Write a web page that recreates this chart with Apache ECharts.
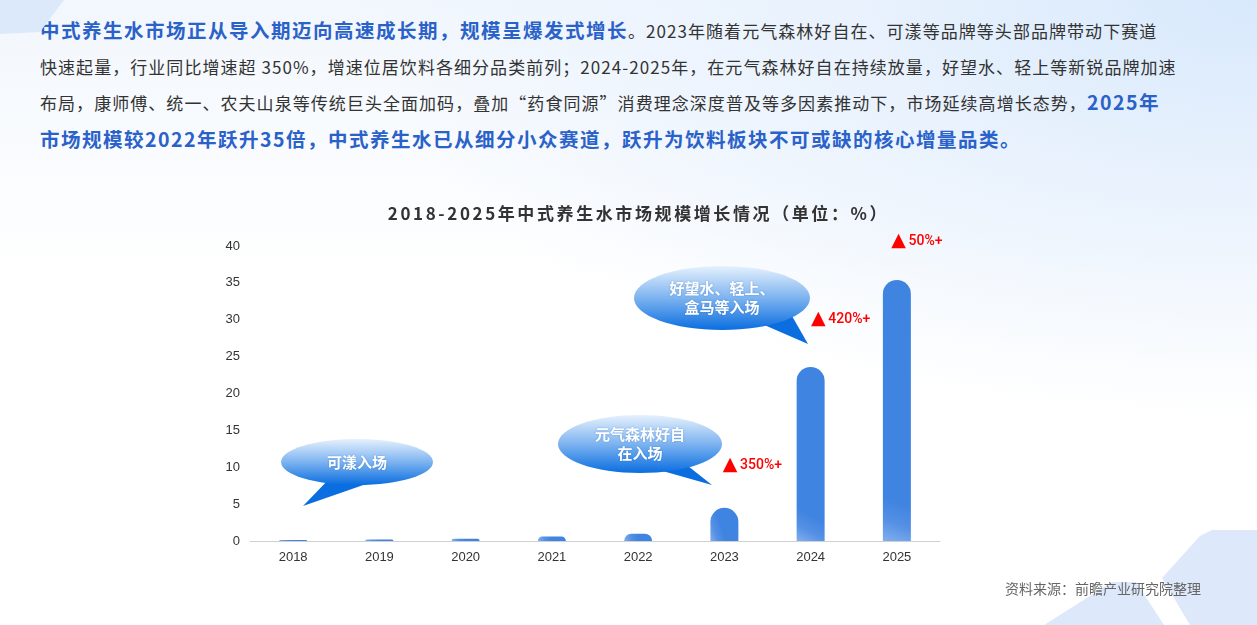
<!DOCTYPE html>
<html>
<head>
<meta charset="utf-8">
<script src="https://cdn.jsdelivr.net/npm/echarts@6/dist/echarts.min.js"></script>
<style>
  html, body { margin: 0; padding: 0; }
  body {
    width: 1257px; height: 625px; overflow: hidden; position: relative;
    font-family: "Noto Sans CJK SC", sans-serif;
    background:
      radial-gradient(ellipse 900px 420px at 100% 0%, #d8e9fc 0%, #e9f2fd 45%, rgba(255,255,255,0) 100%),
      linear-gradient(180deg, #f2f7fd 0%, #ffffff 45%, #ffffff 100%);
  }
  #intro {
    position: absolute; left: 40px; top: 12px; width: 1200px;
    color: #333; font-size: 17px; line-height: 35.5px; white-space: nowrap;
    letter-spacing: 1.05px;
  }
  #intro b { color: #2a62c9; font-size: 19.5px; letter-spacing: 1.5px; }
  #chartTitle {
    position: absolute; left: 0; width: 1257px; top: 200px; text-align: center;
    color: #333; font-size: 17px; font-weight: bold; letter-spacing: 2.6px;
    padding-left: 20px; box-sizing: border-box;
  }
  #chart { position: absolute; left: 0; top: 0; width: 1257px; height: 625px; }
</style>
</head>
<body>
<div id="intro">
  <div><b>中式养生水市场正从导入期迈向高速成长期，规模呈爆发式增长</b>。2023年随着元气森林好自在、可漾等品牌等头部品牌带动下赛道</div>
  <div>快速起量，行业同比增速超 350%，增速位居饮料各细分品类前列；2024-2025年，在元气森林好自在持续放量，好望水、轻上等新锐品牌加速</div>
  <div>布局，康师傅、统一、农夫山泉等传统巨头全面加码，叠加“药食同源”消费理念深度普及等多因素推动下，市场延续高增长态势，<b>2025年</b></div>
  <div><b>市场规模较2022年跃升35倍，中式养生水已从细分小众赛道，跃升为饮料板块不可或缺的核心增量品类。</b></div>
</div>
<div id="chart"></div>
<div id="chartTitle">2018-2025年中式养生水市场规模增长情况（单位：%）</div>
<script>
// data
var years = ['2018', '2019', '2020', '2021', '2022', '2023', '2024', '2025'];
var marketSize = [0.15, 0.2, 0.3, 0.6, 1.0, 4.5, 23.6, 35.4];
var growthTags = ['', '', '', '', '', '350%+', '420%+', '50%+'];
var yTicks = [0, 5, 10, 15, 20, 25, 30, 35, 40];

var tagOffsets = {5: [28, -28], 6: [30, -33], 7: [20, -24]};

var barColor = new echarts.graphic.LinearGradient(0, 1, 1, 0.7, [
    {offset: 0, color: '#80afed'},
    {offset: 0.25, color: '#5590e5'},
    {offset: 0.5, color: '#3f84e1'},
    {offset: 1, color: '#3f84e1'}
]);

var bubbleFill = new echarts.graphic.LinearGradient(0, 0, 0, 1, [
    {offset: 0, color: '#e6f1fd'},
    {offset: 0.5, color: '#7db3f0'},
    {offset: 1, color: '#0a6ee0'}
]);

function bubble(cx, cy, rx, ry, tail, text) {
    return {
        type: 'group',
        children: [
            {type: 'polygon', shape: {points: tail}, style: {fill: '#0a6ee0'}},
            {type: 'ellipse', shape: {cx: cx, cy: cy, rx: rx, ry: ry}, style: {fill: bubbleFill}},
            {
                type: 'text', x: cx, y: cy,
                style: {
                    text: text, fill: '#fff', fontSize: 15, fontWeight: 'bold',
                    lineHeight: 19, align: 'center', verticalAlign: 'middle',
                    fontFamily: 'Noto Sans CJK SC',
                    textShadowColor: 'rgba(0,60,140,0.35)', textShadowBlur: 2
                }
            }
        ]
    };
}

var myChart = echarts.init(document.getElementById('chart'), null, {renderer: 'canvas'});
myChart.setOption({
    backgroundColor: 'transparent',
    textStyle: {fontFamily: 'Noto Sans CJK SC'},
    grid: {left: 250, right: 317, top: 246, bottom: 84},
    xAxis: {
        type: 'category',
        data: years,
        axisLine: {lineStyle: {color: '#d0d0d0'}},
        axisTick: {show: false},
        axisLabel: {color: '#333', fontSize: 13, margin: 10, fontFamily: 'Liberation Sans'}
    },
    yAxis: {
        type: 'value',
        min: yTicks[0],
        max: yTicks[yTicks.length - 1],
        interval: 5,
        axisLine: {show: false},
        axisTick: {show: false},
        splitLine: {show: false},
        axisLabel: {color: '#333', fontSize: 13, margin: 10, fontFamily: 'Liberation Sans'}
    },
    series: [{
        type: 'bar',
        barWidth: 28,
        itemStyle: {color: barColor, borderRadius: [14, 14, 0, 0]},
        data: marketSize.map(function (v, i) {
            var item = {value: v};
            if (growthTags[i]) {
                item.label = {
                    show: true,
                    position: 'top',
                    offset: tagOffsets[i],
                    formatter: '{t|▲} {p|' + growthTags[i] + '}',
                    rich: {
                        t: {color: '#f00', fontSize: 19, fontFamily: 'DejaVu Sans'},
                        p: {color: '#f00', fontSize: 14, fontWeight: 500, fontFamily: 'Roboto'}
                    }
                };
            }
            return item;
        })
    }],
    graphic: [
        {type: 'polygon', silent: true, z: -10, shape: {points: [[0, 0], [64, 0], [40, 32], [0, 34]]}, style: {fill: '#dce9fb'}},
        {type: 'polygon', silent: true, z: -10, shape: {points: [[1212, 530], [1257, 530], [1257, 625], [1190, 625], [1162, 578], [1200, 536]]}, style: {fill: '#dde9fb'}},
        {type: 'polygon', silent: true, z: -10, shape: {points: [[1112, 582], [1136, 582], [1164, 625], [1044, 625]]}, style: {fill: '#dde9fb'}},
        bubble(357, 462, 76, 23, [[332, 476], [372, 482], [303, 506]], '可漾入场'),
        bubble(640, 444, 82, 29, [[652, 468], [688, 466], [712, 485]], '元气森林好自\n在入场'),
        bubble(722, 298, 88, 32, [[762, 324], [792, 316], [808, 344]], '好望水、轻上、\n盒马等入场'),
        {
            type: 'text', right: 56, top: 582,
            style: {text: '资料来源：前瞻产业研究院整理', fill: '#666', fontSize: 14, fontFamily: 'Noto Sans CJK SC'}
        }
    ]
});
</script>
</body>
</html>
